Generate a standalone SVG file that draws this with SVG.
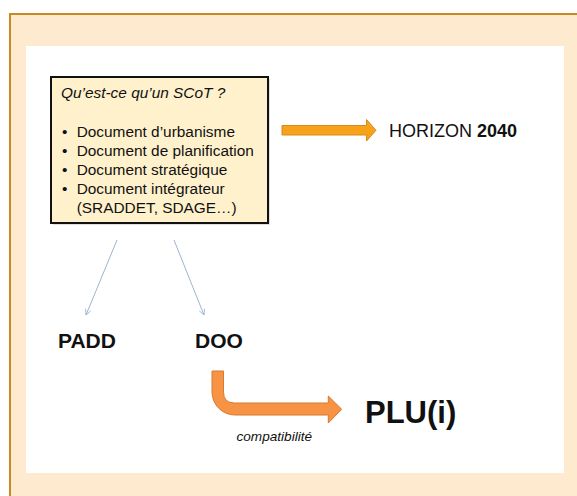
<svg xmlns="http://www.w3.org/2000/svg" width="577" height="496" viewBox="0 0 577 496">
<style>
text{font-family:"Liberation Sans",Arial,sans-serif;fill:#111}
.b{font-size:15.4px}
.big{font-weight:bold;font-size:21px}
.conn{stroke:#9db4d2;stroke-width:1;fill:none}
</style>
<defs>
<marker id="ah" viewBox="0 0 10 10" refX="9" refY="5" markerWidth="7" markerHeight="7" orient="auto" markerUnits="userSpaceOnUse">
<path d="M1,1 L9,5 L1,9" fill="none" stroke="#9db4d2" stroke-width="1.2"/>
</marker>
</defs>
<rect x="0" y="0" width="577" height="496" fill="#ffffff"/>
<rect x="10" y="14" width="580" height="500" fill="#feebcf" stroke="#c8891e" stroke-width="2"/>
<rect x="26" y="46" width="538" height="427" fill="#ffffff"/>
<g id="scot">
<rect x="53" y="79" width="217" height="146" fill="#000" opacity="0.12"/>
<rect x="51" y="77" width="217" height="146" fill="#fff1cc" stroke="#111" stroke-width="2"/>
<text x="61" y="98" class="b" font-style="italic">Qu’est-ce qu’un SCoT ?</text>
<text class="b"><tspan x="62" y="136.5">•</tspan><tspan x="76.7">Document d’urbanisme</tspan></text>
<text class="b"><tspan x="62" y="155.7">•</tspan><tspan x="76.7">Document de planification</tspan></text>
<text class="b"><tspan x="62" y="174.9">•</tspan><tspan x="76.7">Document stratégique</tspan></text>
<text class="b"><tspan x="62" y="194.1">•</tspan><tspan x="76.7">Document intégrateur</tspan></text>
<text class="b" x="76.7" y="213.3">(SRADDET, SDAGE…)</text>
</g>
<g id="horizon">
<text x="389" y="137" font-size="18">HORIZON <tspan font-weight="bold">2040</tspan></text>
</g>
<g id="padd"><text x="58" y="348" class="big">PADD</text></g>
<g id="doo"><text x="195" y="348" class="big">DOO</text></g>
<g id="plu"><text x="365" y="423" font-weight="bold" font-size="31">PLU(i)</text></g>
<g id="connectors">
<path d="M282,125.5 L366.5,125.5 L366.5,119.5 L376,130.3 L366.5,141 L366.5,135 L282,135 Z" fill="#f7a21b" stroke="#d98a1a" stroke-width="1"/>
<line x1="117" y1="240" x2="86" y2="315" class="conn" marker-end="url(#ah)"/>
<line x1="174" y1="240" x2="204" y2="315" class="conn" marker-end="url(#ah)"/>
<path d="M212,371 L223.5,371 L223.5,392 Q223.5,403 234.5,403 L328.3,403 L328.3,396 L341.7,409.3 L328.3,423 L328.3,415 L235,415 A23,23 0 0 1 212,392 Z" fill="#f69344" stroke="#d9792e" stroke-width="1"/>
<text x="236.5" y="441" font-size="13.6" font-style="italic">compatibilité</text>
</g>
</svg>
